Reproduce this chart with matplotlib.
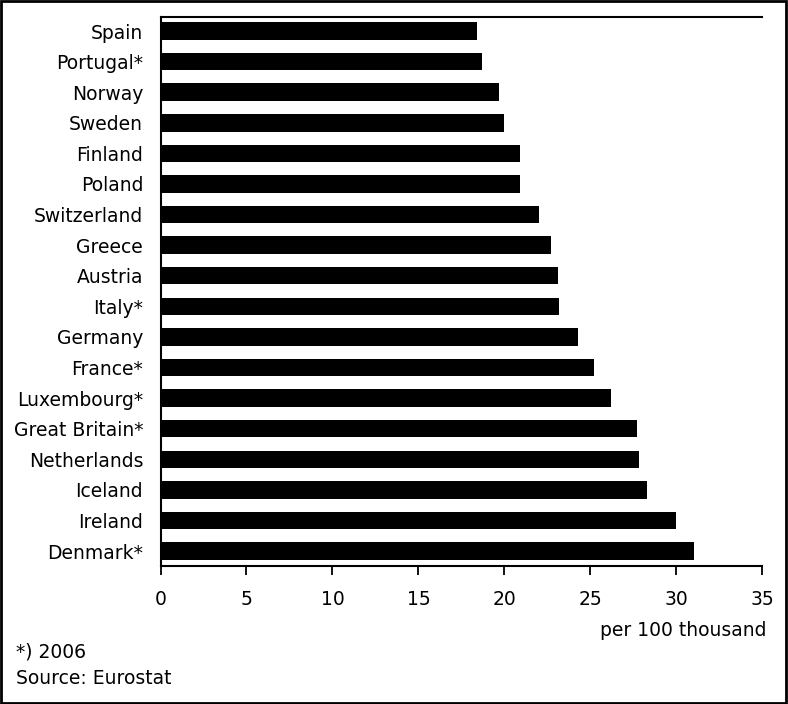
import matplotlib
matplotlib.use("Agg")
import matplotlib.pyplot as plt
from matplotlib.patches import Rectangle

countries = ["Spain", "Portugal*", "Norway", "Sweden", "Finland", "Poland",
             "Switzerland", "Greece", "Austria", "Italy*", "Germany", "France*",
             "Luxembourg*", "Great Britain*", "Netherlands", "Iceland", "Ireland",
             "Denmark*"]
values = [18.4, 18.7, 19.7, 20.0, 20.9, 20.9, 22.0, 22.7, 23.1, 23.2, 24.3,
          25.2, 26.2, 27.7, 27.8, 28.3, 30.0, 31.0]
xticks = [0, 5, 10, 15, 20, 25, 30, 35]

plt.rcParams['font.family'] = ['DejaVu Sans']
fig = plt.figure(figsize=(7.88, 7.04), dpi=100)
ax = fig.add_axes([0.2037, 0.196, 0.9674 - 0.2037, 0.9759 - 0.196])

y = list(range(len(countries)))
ax.barh(y, values, height=0.57, color="black")
ax.set_ylim(17.49, -0.46)
ax.set_xlim(0, 35)
ax.set_yticks(y)
ax.set_yticklabels(countries, fontsize=13.5)
ax.set_xticks(xticks)
ax.set_xticklabels([str(t) for t in xticks], fontsize=13.5)
ax.tick_params(axis='y', length=0, pad=12.5)
ax.tick_params(axis='x', length=6.5, width=1.3, pad=11, direction='out')
for s in ['left', 'bottom', 'top']:
    ax.spines[s].set_linewidth(1.5)
ax.spines['right'].set_visible(False)

fig.text(766 / 788, 1 - 630 / 704, "per 100 thousand", ha='right', va='center', fontsize=13.5)
fig.text(16 / 788, 1 - 652 / 704, "*) 2006", ha='left', va='center', fontsize=13.5)
fig.text(16 / 788, 1 - 679 / 704, "Source: Eurostat", ha='left', va='center', fontsize=13.5)

fig.patches.append(Rectangle((0.001, 0.001), 0.997, 0.997, transform=fig.transFigure,
                             fill=False, edgecolor='black', linewidth=2))

fig.savefig("out.png", dpi=100)
